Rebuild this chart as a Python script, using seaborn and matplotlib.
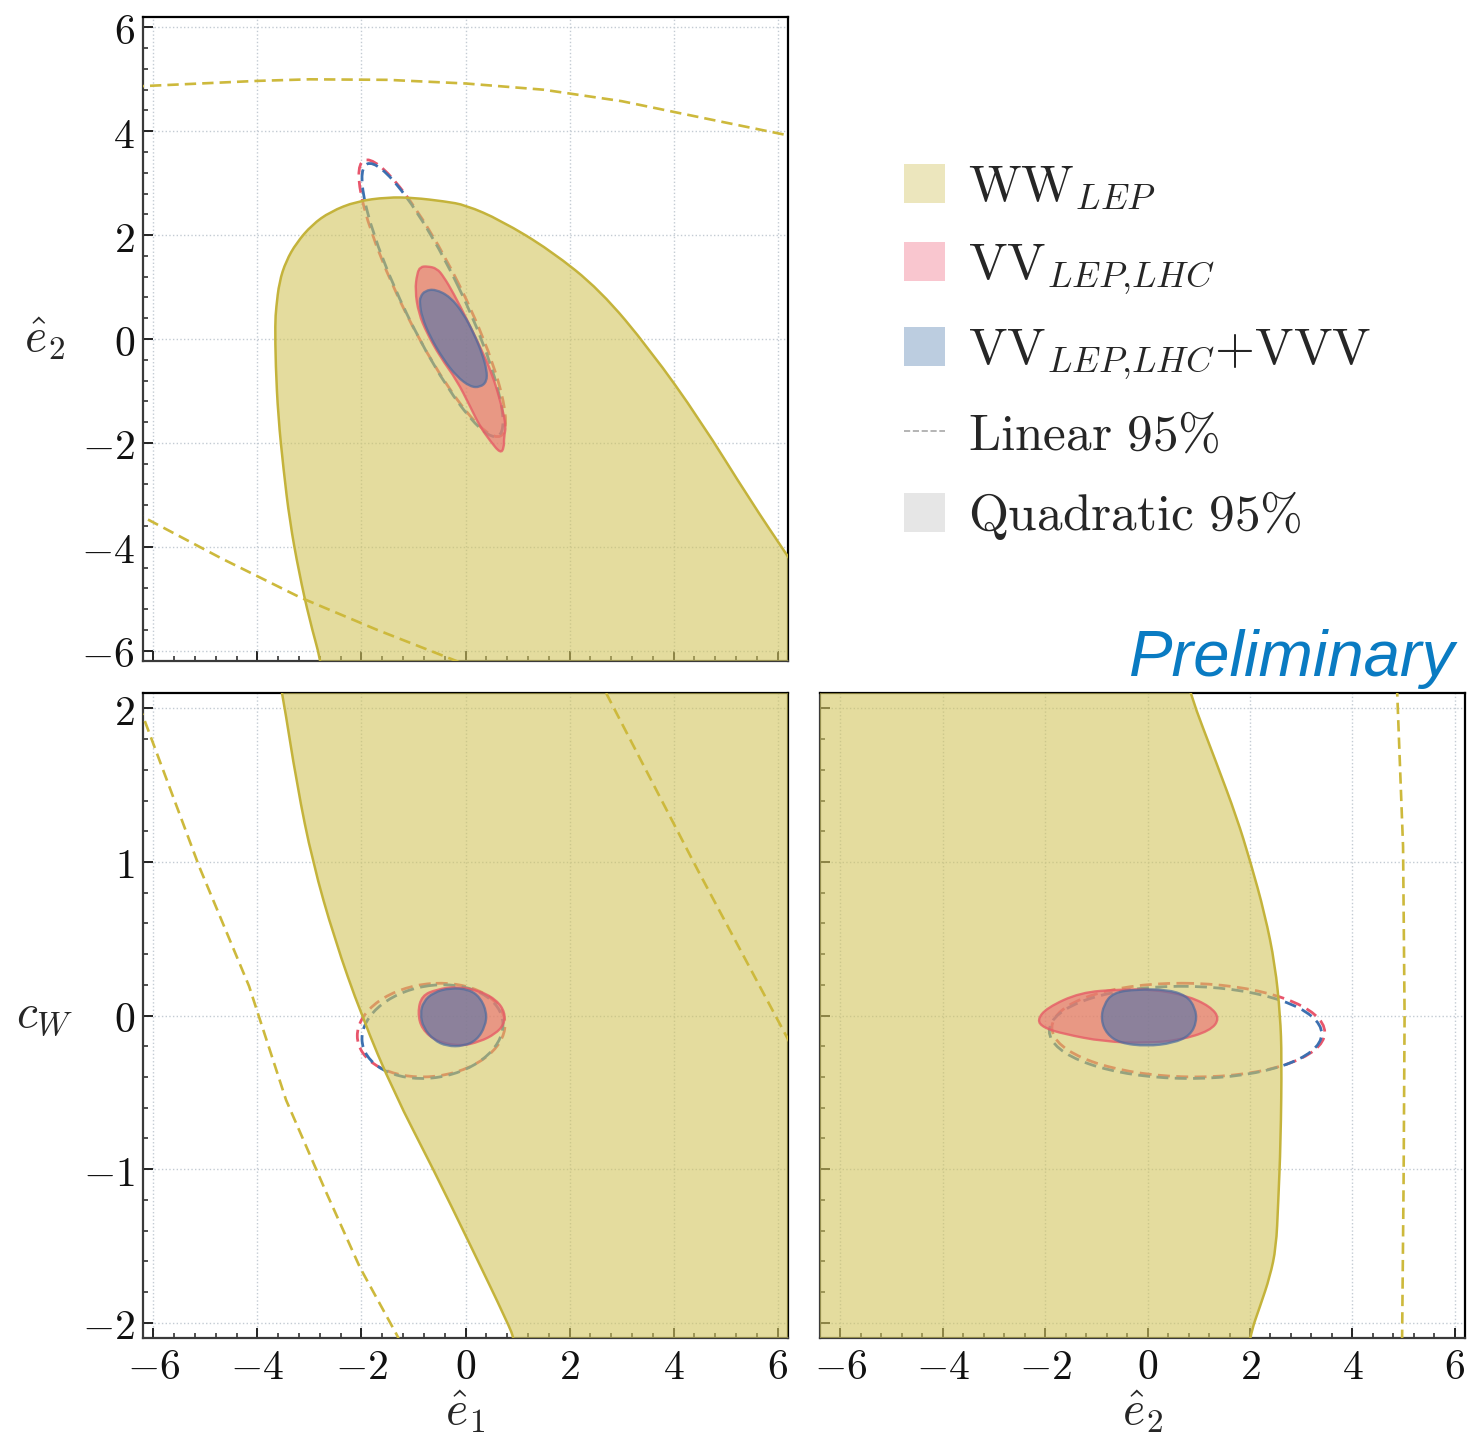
import numpy as np
import seaborn as sns
import matplotlib.pyplot as plt
from matplotlib.patches import Ellipse, Patch, PathPatch
from matplotlib.path import Path
from matplotlib.lines import Line2D
from matplotlib.ticker import MultipleLocator, AutoMinorLocator, FuncFormatter

# ---- quadratic 95% regions ----
# the far-away vertices only close the WW_LEP outlines outside the frames
# panel e1 (x) vs e2 (y)
ww_e1e2_x = [-2.7, -2.78, -3.0, -3.2, -3.38, -3.5, -3.6, -3.65, -3.66, -3.64, -3.58, -3.45, -3.25,
             -2.95, -2.6, -2.1, -1.5, -1.0, -0.4, 0.0, 0.67, 1.63, 2.59, 3.55, 4.51, 5.47, 6.2, 6.7, 30.0]
ww_e1e2_y = [-6.8, -6.2, -5.4, -4.5, -3.5, -2.5, -1.5, -0.5, 0.3, 0.6, 1.1, 1.5, 1.85,
             2.2, 2.45, 2.65, 2.73, 2.72, 2.65, 2.58, 2.29, 1.71, 0.94, -0.21, -1.56, -3.1, -4.19, -4.94, -30.0]
vv_e1e2_x = [-0.87, -0.73, -0.55, -0.42, -0.23, 0.03, 0.28, 0.51, 0.70, 0.78, 0.74, 0.74, 0.67, 0.48,
             0.28, 0.09, -0.17, -0.49, -0.74, -0.90, -0.97, -0.93]
vv_e1e2_y = [1.39, 1.40, 1.36, 1.20, 0.88, 0.37, -0.15, -0.66, -1.30, -1.69, -1.88, -2.10, -2.20, -1.97,
             -1.69, -1.30, -0.79, -0.34, 0.11, 0.49, 0.94, 1.26]
vvv_e1e2_x = [-0.87, -0.78, -0.58, -0.29, -0.04, 0.16, 0.32, 0.41, 0.41, 0.28, 0.09, -0.17, -0.42, -0.68, -0.84, -0.88]
vvv_e1e2_y = [0.81, 0.93, 0.96, 0.81, 0.49, 0.11, -0.28, -0.60, -0.82, -0.93, -0.92, -0.72, -0.40, 0.04, 0.43, 0.69]

# panel e1 (x) vs cW (y)
ww_e1cw_x = [-3.8, -3.52, -3.24, -2.94, -2.52, -2.0, -1.38, -0.62, 0.1, 0.81, 0.95, 1.1, 30.0, 30.0]
ww_e1cw_y = [2.6, 2.1, 1.5, 1.0, 0.5, 0.0, -0.5, -1.0, -1.5, -2.0, -2.12, -2.5, -30.0, 30.0]
vv_e1cw_x = [-0.92, -0.84, -0.55, -0.17, 0.28, 0.60, 0.76, 0.74, 0.57, 0.28, -0.10, -0.55, -0.84]
vv_e1cw_y = [0.02, 0.13, 0.17, 0.19, 0.16, 0.10, 0.02, -0.06, -0.12, -0.17, -0.20, -0.17, -0.09]
vvv_e1cw_x = [-0.87, -0.81, -0.62, -0.29, 0.06, 0.28, 0.41, 0.38, 0.22, -0.04, -0.36, -0.61, -0.81]
vvv_e1cw_y = [0.01, 0.09, 0.15, 0.18, 0.17, 0.12, 0.02, -0.07, -0.16, -0.20, -0.20, -0.16, -0.08]

# panel e2 (x) vs cW (y)
ww_e2cw_x = [-30.0, 0.5, 0.82, 1.35, 1.74, 2.0, 2.29, 2.49, 2.59, 2.62, 2.60, 2.55, 2.51, 2.39, 2.2, 2.0, 1.8, -30.0]
ww_e2cw_y = [30.0, 2.5, 2.10, 1.64, 1.29, 1.01, 0.66, 0.33, 0.0, -0.27, -0.82, -1.23, -1.51, -1.70, -1.89, -2.08, -2.5, -30.0]
vv_e2cw_x = [-2.16, -1.97, -1.32, -0.54, 0.11, 0.76, 1.22, 1.41, 1.22, 0.63, -0.02, -0.86, -1.64, -2.03]
vv_e2cw_y = [-0.03, 0.05, 0.15, 0.17, 0.17, 0.13, 0.06, -0.02, -0.10, -0.16, -0.18, -0.17, -0.12, -0.08]
vvv_e2cw_x = [-0.91, -0.86, -0.67, -0.21, 0.37, 0.76, 0.93, 0.96, 0.83, 0.50, -0.02, -0.54, -0.80]
vvv_e2cw_y = [-0.03, 0.07, 0.15, 0.17, 0.17, 0.13, 0.05, -0.04, -0.13, -0.18, -0.20, -0.18, -0.12]

# ---- linear 95% ellipses: centre x, centre y, half range x, half range y, correlation ----
lin_vv = {"e1e2": (-0.64, 0.785, 1.41, 2.665, -0.89),
          "e1cw": (-0.66, -0.095, 1.42, 0.305, 0.12),
          "e2cw": (0.795, -0.095, 2.665, 0.305, -0.05)}
lin_vvv = {"e1e2": (-0.635, 0.75, 1.355, 2.63, -0.89),
           "e1cw": (-0.635, -0.105, 1.355, 0.305, 0.15),
           "e2cw": (0.74, -0.11, 2.66, 0.30, -0.03)}

# WW_LEP linear contour: only the pieces that fall inside the frames
lin_ww_e1e2_top_x = [-6.4, -4.0, -3.0, -1.5, 0.0, 1.5, 3.0, 4.5, 6.4]
lin_ww_e1e2_top_y = [4.86, 4.97, 5.0, 4.99, 4.92, 4.8, 4.58, 4.27, 3.88]
lin_ww_e1e2_bot_x = [-6.4, -4.7, -3.17, -1.7, -0.2, 0.3]
lin_ww_e1e2_bot_y = [-3.32, -4.22, -4.98, -5.6, -6.19, -6.4]
lin_ww_e1cw_a_x = [-6.4, -6.19, -5.12, -4.16, -3.45, -2.68, -2.03, -1.32, -1.25]
lin_ww_e1cw_a_y = [2.13, 1.94, 0.97, 0.19, -0.55, -1.15, -1.64, -2.08, -2.13]
lin_ww_e1cw_b_x = [2.55, 4.46, 6.35]
lin_ww_e1cw_b_y = [2.2, 0.95, -0.25]
lin_ww_e2cw_x = [4.87, 4.99, 5.02, 5.0, 4.97]
lin_ww_e2cw_y = [2.15, 1.1, 0.0, -1.1, -2.15]

labels = [r"$\mathrm{WW}_{LEP}$", r"$\mathrm{VV}_{LEP{,}LHC}$", r"$\mathrm{VV}_{LEP{,}LHC}\mathrm{+VVV}$",
          r"$\mathrm{Linear\ 95\%}$", r"$\mathrm{Quadratic\ 95\%}$"]

# ---- style ----
sns.set_theme(style="white")
plt.rcParams["mathtext.fontset"] = "cm"
plt.rcParams["font.family"] = ["DejaVu Serif"]
plt.rcParams["axes.axisbelow"] = True

ww_face = (0.824, 0.773, 0.365, 0.6)
ww_edge = "#c4b33b"
ww_dash = "#cdb93c"
vv_face = (0.92, 0.42, 0.45, 0.6)
vv_edge = (0.90, 0.36, 0.40, 0.8)
vvv_face = (0.31, 0.45, 0.67, 0.6)
vvv_edge = (0.30, 0.42, 0.62, 0.7)
vv_line = "#e8566c"
vvv_line = "#3c70b0"
dash = (0, (4.3, 2.3))

fig = plt.figure(figsize=(14.77, 14.39), dpi=100)
ax_tl = fig.add_axes([143 / 1477, 1 - 661 / 1439, 645 / 1477, 644 / 1439])
ax_bl = fig.add_axes([143 / 1477, 1 - 1338 / 1439, 645 / 1477, 645 / 1439])
ax_br = fig.add_axes([820 / 1477, 1 - 1338 / 1439, 645 / 1477, 645 / 1439])


def smooth_path(x, y):
    # closed quadratic-bezier outline through the read-off vertices' midpoints
    p = np.column_stack([x, y])
    mids = (p + np.roll(p, -1, axis=0)) / 2
    verts = [mids[-1]]
    codes = [Path.MOVETO]
    for i in range(len(p)):
        verts += [p[i], mids[i]]
        codes += [Path.CURVE3, Path.CURVE3]
    return Path(verts, codes)


def lin_ellipse(ax, pars, color):
    cx, cy, hx, hy, rho = pars
    cov = np.array([[hx ** 2, rho * hx * hy], [rho * hx * hy, hy ** 2]])
    vals, vecs = np.linalg.eigh(cov)
    ang = np.degrees(np.arctan2(vecs[1, 1], vecs[0, 1]))
    ax.add_patch(Ellipse((cx, cy), 2 * np.sqrt(vals[1]), 2 * np.sqrt(vals[0]), angle=ang,
                         fill=False, ls=dash, lw=2.0, ec=color, zorder=2))


def region(ax, x, y, face, edge, lw, z):
    path = smooth_path(x, y)
    ax.add_patch(PathPatch(path, fc=face, ec="none", zorder=z))
    ax.add_patch(PathPatch(path, fc="none", ec=edge, lw=lw, zorder=z + 0.1))


def ww_dashed(ax, x, y):
    sns.lineplot(x=x, y=y, sort=False, estimator=None, color=ww_dash, lw=1.9,
                 linestyle=dash, ax=ax, zorder=4)


panels = [
    (ax_tl, "e1e2", (ww_e1e2_x, ww_e1e2_y), (vv_e1e2_x, vv_e1e2_y), (vvv_e1e2_x, vvv_e1e2_y)),
    (ax_bl, "e1cw", (ww_e1cw_x, ww_e1cw_y), (vv_e1cw_x, vv_e1cw_y), (vvv_e1cw_x, vvv_e1cw_y)),
    (ax_br, "e2cw", (ww_e2cw_x, ww_e2cw_y), (vv_e2cw_x, vv_e2cw_y), (vvv_e2cw_x, vvv_e2cw_y)),
]
for ax, key, ww, vv, vvv in panels:
    lin_ellipse(ax, lin_vv[key], vv_line)
    lin_ellipse(ax, lin_vvv[key], vvv_line)
    region(ax, *ww, ww_face, ww_edge, 1.8, 3)
    region(ax, *vv, vv_face, vv_edge, 1.7, 5)
    region(ax, *vvv, vvv_face, vvv_edge, 1.7, 6)

ww_dashed(ax_tl, lin_ww_e1e2_top_x, lin_ww_e1e2_top_y)
ww_dashed(ax_tl, lin_ww_e1e2_bot_x, lin_ww_e1e2_bot_y)
ww_dashed(ax_bl, lin_ww_e1cw_a_x, lin_ww_e1cw_a_y)
ww_dashed(ax_bl, lin_ww_e1cw_b_x, lin_ww_e1cw_b_y)
ww_dashed(ax_br, lin_ww_e2cw_x, lin_ww_e2cw_y)

ax_tl.set_xlim(-6.2, 6.2)
ax_tl.set_ylim(-6.2, 6.2)
ax_bl.set_xlim(-6.2, 6.2)
ax_bl.set_ylim(-2.1, 2.1)
ax_br.set_xlim(-6.4, 6.2)
ax_br.set_ylim(-2.1, 2.1)

fmt = FuncFormatter(lambda v, p: "$%d$" % int(round(v)))
for ax in (ax_tl, ax_bl, ax_br):
    ax.xaxis.set_major_locator(MultipleLocator(2))
    ax.xaxis.set_minor_locator(AutoMinorLocator(5))
    ax.yaxis.set_minor_locator(AutoMinorLocator(5))
    ax.xaxis.set_major_formatter(fmt)
    ax.yaxis.set_major_formatter(fmt)
    ax.tick_params(which="both", direction="in", top=False, right=False, bottom=True, left=True,
                   color="#222222", labelsize=30, pad=6, labelcolor="#111111")
    ax.tick_params(which="major", length=7, width=1.4)
    ax.tick_params(which="minor", length=3.5, width=1.1)
    ax.grid(True, which="major", ls=":", lw=1.0, color="#c3cbd3")
    for side in ("top", "right"):
        ax.spines[side].set_color("black")
        ax.spines[side].set_linewidth(1.6)
    for side in ("left", "bottom"):
        ax.spines[side].set_color("#3a3a3a")
        ax.spines[side].set_linewidth(1.6)
ax_tl.yaxis.set_major_locator(MultipleLocator(2))
ax_bl.yaxis.set_major_locator(MultipleLocator(1))
ax_br.yaxis.set_major_locator(MultipleLocator(1))
ax_tl.tick_params(labelbottom=False)
ax_br.tick_params(labelleft=False)

ax_tl.set_ylabel(r"$\hat{e}_2$", fontsize=34, rotation=0, va="center", ha="center")
ax_tl.yaxis.set_label_coords(-0.152, 0.5)
ax_bl.set_ylabel(r"$c_W$", fontsize=34, rotation=0, va="center", ha="center")
ax_bl.yaxis.set_label_coords(-0.152, 0.5)
ax_bl.set_xlabel(r"$\hat{e}_1$", fontsize=34, va="center")
ax_bl.xaxis.set_label_coords(0.5, -0.115)
ax_br.set_xlabel(r"$\hat{e}_2$", fontsize=34, va="center")
ax_br.xaxis.set_label_coords(0.5, -0.115)

handles = [Patch(fc="#ece6bd", ec="none"), Patch(fc="#f9c6cf", ec="none"), Patch(fc="#bccde0", ec="none"),
           Line2D([], [], color="#a8a8a8", ls="--", lw=1.2), Patch(fc="#e6e6e6", ec="none")]
fig.legend(handles, labels, loc="upper left", bbox_to_anchor=(878 / 1477, 1 - 137 / 1439),
           frameon=False, fontsize=37, borderpad=0, handlelength=0.8, handleheight=0.78,
           handletextpad=0.45, labelspacing=0.56)

fig.text(1455 / 1477, 1 - 676 / 1439, "Preliminary", color="#0a7bc2", fontsize=47,
         style="italic", family=["Liberation Sans", "DejaVu Sans"], ha="right", va="baseline")

fig.savefig("out.png", dpi=100)
